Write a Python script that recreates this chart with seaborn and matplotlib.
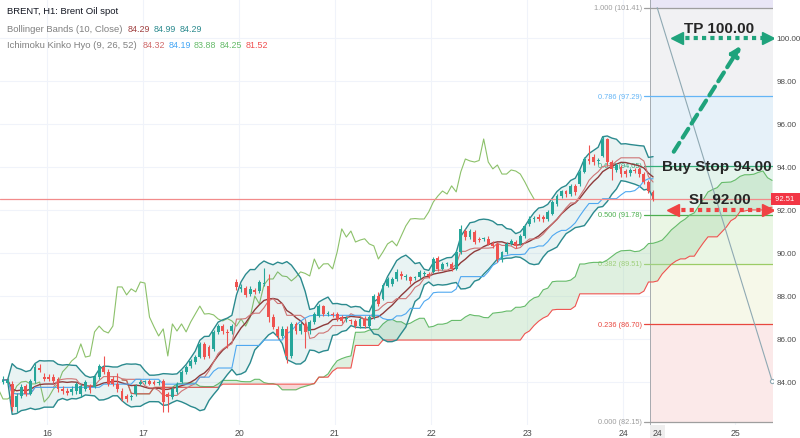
import numpy as np
import pandas as pd
import seaborn as sns
import matplotlib.pyplot as plt
import matplotlib.transforms as mtransforms

# hourly candles (BRENT, H1)
opens = [84.00, 83.95, 83.91, 82.84, 83.35, 83.81, 83.44, 84.05, 84.65, 84.23,
         84.23, 84.23, 84.14, 83.67, 83.58, 83.53, 83.58, 83.44, 83.67, 83.77,
         83.77, 84.23, 84.70, 84.47, 84.14, 83.91, 83.58, 83.35, 83.30, 83.44,
         83.91, 84.00, 84.05, 84.00, 83.95, 84.05, 83.44, 83.30, 83.53, 84.00,
         84.47, 84.74, 84.93, 85.16, 85.77, 85.63, 85.53, 86.33, 86.60, 86.33,
         86.37, 88.65, 88.33, 88.37, 88.09, 88.28, 88.23, 88.56, 88.47, 87.02,
         86.47, 86.14, 86.47, 85.21, 86.70, 86.37, 86.70, 86.37, 86.79, 87.07,
         87.53, 87.16, 87.16, 87.16, 87.02, 86.93, 86.88, 86.84, 86.60, 86.93,
         86.60, 87.02, 88.00, 87.86, 88.47, 88.56, 88.79, 89.02, 88.88, 88.88,
         88.84, 88.88, 89.02, 89.00, 89.12, 89.77, 89.26, 89.49, 89.49, 89.26,
         90.05, 91.02, 90.74, 90.98, 90.65, 90.65, 90.65, 90.42, 90.42, 89.72,
         90.05, 90.42, 90.51, 90.42, 90.79, 91.35, 91.58, 91.67, 91.67, 91.58,
         91.81, 92.28, 92.65, 92.88, 92.74, 93.12, 93.21, 93.77, 94.37, 94.47,
         94.28, 94.51, 95.30, 94.23, 93.86, 94.00, 93.80, 93.72, 93.86, 93.91,
         93.67, 93.30, 92.84]
highs = [84.30, 84.20, 84.05, 83.50, 83.90, 83.90, 84.15, 84.90, 84.85, 84.40,
         84.35, 84.35, 84.25, 83.80, 83.70, 83.80, 84.00, 83.90, 84.10, 83.90,
         84.35, 84.85, 85.20, 84.60, 84.30, 84.40, 83.70, 83.45, 83.45, 83.90,
         84.10, 84.10, 84.15, 84.10, 84.10, 84.15, 83.55, 83.75, 84.00, 84.55,
         84.80, 85.05, 85.25, 85.85, 85.85, 85.70, 86.40, 86.70, 86.70, 86.45,
         86.70, 88.80, 88.55, 88.45, 88.45, 88.35, 88.75, 89.30, 89.00, 87.15,
         86.60, 86.60, 86.60, 86.80, 86.80, 86.80, 86.80, 86.90, 87.25, 87.65,
         87.60, 87.30, 87.25, 87.25, 87.10, 87.05, 86.95, 86.95, 87.00, 87.05,
         87.10, 88.10, 88.20, 88.60, 88.90, 88.90, 89.25, 89.15, 89.00, 88.95,
         88.95, 89.20, 89.15, 89.10, 89.80, 89.85, 89.60, 89.60, 89.60, 90.15,
         91.30, 91.10, 91.10, 91.05, 90.75, 90.75, 90.80, 90.55, 90.50, 90.10,
         90.50, 90.65, 90.60, 90.90, 91.35, 91.70, 91.70, 91.80, 91.75, 92.00,
         92.45, 92.75, 92.95, 92.95, 93.20, 93.20, 93.85, 94.45, 95.00, 94.60,
         94.40, 95.45, 95.35, 94.30, 94.20, 94.10, 93.90, 93.95, 93.95, 94.00,
         93.75, 93.40, 92.95]
lows = [83.90, 83.85, 82.65, 82.60, 83.25, 83.35, 83.40, 83.95, 84.45, 84.05,
        84.05, 83.95, 83.55, 83.45, 83.40, 83.40, 83.45, 83.30, 83.60, 83.50,
        83.70, 84.15, 84.35, 83.80, 83.80, 83.55, 83.10, 83.05, 83.15, 83.35,
        83.85, 83.90, 83.85, 83.85, 83.85, 82.60, 82.60, 83.20, 83.45, 83.95,
        84.35, 84.65, 84.85, 85.10, 85.05, 85.10, 85.45, 86.25, 86.25, 85.60,
        86.25, 88.30, 88.20, 87.95, 88.00, 88.10, 88.15, 88.45, 86.80, 86.45,
        86.00, 86.05, 84.90, 85.10, 86.25, 86.25, 85.60, 86.25, 86.70, 87.00,
        87.05, 87.05, 87.00, 86.85, 86.75, 86.80, 86.70, 86.50, 86.50, 86.50,
        86.50, 86.95, 87.55, 87.80, 88.40, 88.45, 88.70, 88.80, 88.75, 88.55,
        88.75, 88.80, 88.95, 88.85, 89.05, 89.15, 89.20, 89.40, 89.15, 89.20,
        89.95, 90.60, 90.65, 90.40, 90.50, 90.55, 90.35, 90.25, 89.60, 89.60,
        89.95, 90.35, 90.25, 90.35, 90.70, 91.25, 91.45, 91.50, 91.45, 91.50,
        91.75, 92.20, 92.55, 92.60, 92.65, 92.70, 93.10, 93.70, 94.15, 94.10,
        94.15, 94.45, 94.10, 93.40, 93.75, 93.55, 93.55, 93.60, 93.70, 93.55,
        93.20, 92.80, 92.40]
closes = [84.09, 84.09, 82.84, 83.35, 83.77, 83.44, 84.05, 84.70, 84.56, 84.14,
          84.14, 84.05, 83.67, 83.58, 83.49, 83.67, 83.91, 83.81, 84.00, 83.63,
          84.23, 84.74, 84.47, 83.91, 83.91, 83.67, 83.21, 83.21, 83.35, 83.81,
          84.00, 84.03, 83.91, 83.91, 84.00, 83.07, 83.30, 83.67, 83.91, 84.47,
          84.70, 84.98, 85.16, 85.77, 85.16, 85.21, 86.33, 86.60, 86.37, 86.28,
          86.60, 88.42, 88.42, 88.05, 88.33, 88.19, 88.65, 88.60, 87.02, 86.56,
          86.14, 86.47, 85.21, 86.70, 86.37, 86.70, 86.33, 86.79, 87.16, 87.53,
          87.16, 87.18, 87.12, 86.93, 86.84, 86.95, 86.84, 86.60, 86.93, 86.60,
          87.02, 88.00, 87.63, 88.51, 88.79, 88.79, 89.12, 88.93, 88.90, 88.70,
          88.88, 89.12, 89.05, 88.93, 89.72, 89.26, 89.49, 89.50, 89.26, 90.05,
          91.12, 90.74, 91.02, 90.51, 90.60, 90.66, 90.42, 90.33, 89.72, 90.05,
          90.42, 90.56, 90.33, 90.79, 91.26, 91.58, 91.60, 91.58, 91.58, 91.91,
          92.37, 92.65, 92.88, 92.74, 93.12, 92.84, 93.77, 94.37, 94.28, 94.23,
          94.30, 95.30, 94.23, 93.91, 94.09, 93.67, 93.67, 93.86, 93.81, 93.67,
          93.30, 92.88, 92.51]

day_labels = ["16", "17", "20", "21", "22", "23", "24", "25"]
day_ticks = [9.6, 30.6, 51.6, 72.5, 93.5, 114.5, 135.5, 159.9]
price_ticks = [84, 86, 88, 90, 92, 94, 96, 98, 100]

fib_low, fib_high = 82.15, 101.41
fib_ratios = [0.0, 0.236, 0.382, 0.5, 0.618, 0.786, 1.0]
fib_colors = ["#9e9e9e", "#e8473f", "#9ccc65", "#4caf50", "#35b07a", "#64b5f6", "#9e9e9e"]
fib_fills = ["#fbe9e9", "#f6f8e9", "#eaf6e4", "#e4f4ec", "#e6f1f9", "#f1f1f3"]
fib_top_fill = "#e9e6f6"

last_price = 92.51
tp_price, entry_price, sl_price = 100.00, 94.00, 92.00
# drawing anchors (bar index, price)
trend_start = (142.9, 101.41)
trend_end = (168.0, 84.05)
tp_arrow_x = (147.3, 167.0)
sl_arrow_x = (146.4, 167.0)
up_arrow = ((146.2, 94.6), (161.5, 99.75))

bb_values = [("84.29", "#a04040"), ("84.99", "#2b8a8e"), ("84.29", "#2b8a8e")]
ichi_values = [("84.32", "#d06a6a"), ("84.19", "#42a5f5"), ("83.88", "#66bb6a"),
               ("84.25", "#66bb6a"), ("81.52", "#f05050")]

up_col, down_col = "#26a69a", "#ef5350"
arrow_green = "#1fa37c"
arrow_red = "#f04343"

df = pd.DataFrame({"open": opens, "high": highs, "low": lows, "close": closes})
df["idx"] = np.arange(len(df))

# Bollinger Bands (10, Close)
basis = df["close"].rolling(10, min_periods=1).mean()
dev = df["close"].rolling(10, min_periods=1).std(ddof=0)
upper = basis + 2 * dev
lower = basis - 2 * dev

# Ichimoku (9, 26, 52)
tenkan = (df["high"].rolling(9, min_periods=1).max() + df["low"].rolling(9, min_periods=1).min()) / 2
kijun = (df["high"].rolling(26, min_periods=1).max() + df["low"].rolling(26, min_periods=1).min()) / 2
span_a = (tenkan + kijun) / 2
span_b = (df["high"].rolling(52, min_periods=1).max() + df["low"].rolling(52, min_periods=1).min()) / 2
lead_x = df["idx"] + 26
lag_x = df["idx"] - 26

sns.set_style("white")
plt.rcParams["font.family"] = ["Liberation Sans", "DejaVu Sans"]

fig = plt.figure(figsize=(8, 4.39), dpi=100)
ax = fig.add_axes([0, 13 / 439, 773 / 800, 426 / 439])
ax.set_xlim(-0.655, 168.2)
ax.set_ylim(82.0, 101.81)

# grid
for t in day_ticks:
    ax.axvline(t, color="#f0f3fa", lw=0.8, zorder=0)
for p in price_ticks:
    ax.axhline(p, color="#f0f3fa", lw=0.8, zorder=0)

# fib retracement
xr = 168.2
fib_prices = [fib_low + r * (fib_high - fib_low) for r in fib_ratios]
for k in range(len(fib_prices) - 1):
    ax.fill_between([141.4, xr], fib_prices[k], fib_prices[k + 1], color=fib_fills[k], lw=0, zorder=0.5)
ax.fill_between([141.4, xr], fib_prices[-1], 101.81, color=fib_top_fill, lw=0, zorder=0.5)
ax.axvline(141.4, color="#9aa0a6", lw=0.6, zorder=0.6)
for r, p, c in zip(fib_ratios, fib_prices, fib_colors):
    ax.plot([140.0, xr], [p, p], color=c, lw=0.9, zorder=0.7)
    ax.text(139.6, p, f"{r:.3f} ({p:.2f})", color=c, fontsize=5.3, ha="right", va="center", zorder=0.7)
ax.plot([trend_start[0], trend_end[0]], [trend_start[1], trend_end[1]], color="#8fa9b3", lw=0.8, zorder=6)
ax.plot(trend_end[0], trend_end[1], "o", ms=3, mfc="white", mec="#8fa9b3", mew=0.8, zorder=6)

# ichimoku cloud
ax.fill_between(lead_x, span_a, span_b, where=span_a >= span_b, interpolate=True,
                color="#a5d6a7", alpha=0.35, lw=0, zorder=1)
ax.fill_between(lead_x, span_a, span_b, where=span_a < span_b, interpolate=True,
                color="#ef9a9a", alpha=0.4, lw=0, zorder=1)
sns.lineplot(x=lead_x, y=span_a, ax=ax, color="#66bb6a", lw=0.8, zorder=1.2)
sns.lineplot(x=lead_x, y=span_b, ax=ax, color="#ef5350", lw=0.8, zorder=1.2)
sns.lineplot(x=lag_x, y=df["close"], ax=ax, color="#8cc16a", lw=0.8, zorder=1.2)

# bollinger
ax.fill_between(df["idx"], lower, upper, color="#2b8a8e", alpha=0.1, lw=0, zorder=1.5)
sns.lineplot(x=df["idx"], y=upper, ax=ax, color="#2b8a8e", lw=1.0, zorder=2)
sns.lineplot(x=df["idx"], y=lower, ax=ax, color="#2b8a8e", lw=1.0, zorder=2)
sns.lineplot(x=df["idx"], y=basis, ax=ax, color="#8e3b3b", lw=1.0, zorder=2)
sns.lineplot(x=df["idx"], y=tenkan, ax=ax, color="#cf7474", lw=0.8, zorder=2)
sns.lineplot(x=df["idx"], y=kijun, ax=ax, color="#4fa8f0", lw=0.8, zorder=2)

# candles
colors = np.where(df["close"] >= df["open"], up_col, down_col)
body_lo = np.minimum(df["open"], df["close"])
body_h = np.maximum(np.abs(df["close"] - df["open"]), 0.04)
ax.vlines(df["idx"], df["low"], df["high"], colors=colors, lw=0.8, zorder=3)
ax.bar(df["idx"], body_h, bottom=body_lo, width=0.62, color=colors, lw=0, zorder=3.1)

# last price line
ax.axhline(last_price, color="#f28b8b", lw=0.9, zorder=2.5)
ax.text(1.0, last_price, f" {last_price:.2f}  ", transform=ax.get_yaxis_transform(), ha="left", va="center",
        fontsize=5.5, color="white", zorder=10,
        bbox=dict(boxstyle="square,pad=0.3", fc="#f23645", ec="none"), clip_on=False)

# trade drawings
ax.plot(tp_arrow_x, [tp_price, tp_price], color=arrow_green, lw=3, ls=(0, (1, 1)), zorder=7)
ax.plot(tp_arrow_x[0], tp_price, marker="<", ms=8, color=arrow_green, zorder=7)
ax.plot(tp_arrow_x[1], tp_price, marker=">", ms=8, color=arrow_green, zorder=7)
ax.plot(sl_arrow_x, [sl_price, sl_price], color=arrow_red, lw=3, ls=(0, (1, 1)), zorder=7)
ax.plot(sl_arrow_x[0], sl_price, marker="<", ms=8, color=arrow_red, zorder=7)
ax.plot(sl_arrow_x[1], sl_price, marker=">", ms=8, color=arrow_red, zorder=7)
ax.annotate("", xy=up_arrow[1], xytext=up_arrow[0], zorder=7,
            arrowprops=dict(arrowstyle="-|>", color=arrow_green, lw=3, ls=(0, (2.5, 1.5)), mutation_scale=14))
ax.text(156.5, tp_price + 0.45, f"TP {tp_price:.2f}", fontsize=11, fontweight="bold", ha="center", va="center", zorder=8)
ax.text(156.0, entry_price + 0.05, f"Buy Stop {entry_price:.2f}", fontsize=11, fontweight="bold",
        ha="center", va="center", zorder=8)
ax.text(156.5, sl_price + 0.5, f"SL {sl_price:.2f}", fontsize=11, fontweight="bold", ha="center", va="center", zorder=8)

# axes
for s in ax.spines.values():
    s.set_visible(False)
ax.yaxis.tick_right()
ax.set_yticks(price_ticks)
ax.set_yticklabels([f"{p:.2f}" for p in price_ticks])
ax.set_xticks(day_ticks)
ax.set_xticklabels(day_labels)
ax.tick_params(axis="y", length=0, labelsize=5.8, labelcolor="#4a4a4a", pad=2.5)
ax.tick_params(axis="x", length=0, labelsize=6.3, labelcolor="#4a4a4a", pad=2.5)
ax.set_xlabel("")
ax.set_ylabel("")
trans = mtransforms.blended_transform_factory(ax.transData, ax.transAxes)
ax.text(142.9, -0.017, "24", transform=trans, ha="center", va="center", fontsize=6.3, color="#4a4a4a",
        bbox=dict(boxstyle="square,pad=0.3", fc="#eeeeee", ec="none"), clip_on=False)

# header / legend
fig.text(7 / 800, 1 - 12 / 439, "BRENT, H1: Brent Oil spot", fontsize=6.8, color="#131722", va="center")


def legend_row(y, title, values):
    # title in gray, then the coloured values chained after it
    prev = ax.annotate(title, xy=(7 / 800, 1 - y / 439), xycoords="figure fraction",
                       fontsize=6.8, color="#808080", va="center", ha="left", annotation_clip=False)
    for i, (t, c) in enumerate(values):
        prev = ax.annotate(t, xy=(1, 0.5), xycoords=prev, xytext=(4 if i == 0 else 2.5, 0),
                           textcoords="offset points", fontsize=6.4, color=c, va="center", ha="left",
                           annotation_clip=False)


legend_row(29, "Bollinger Bands (10, Close)", bb_values)
legend_row(45, "Ichimoku Kinko Hyo (9, 26, 52)", ichi_values)

fig.savefig("out.png", dpi=100)
